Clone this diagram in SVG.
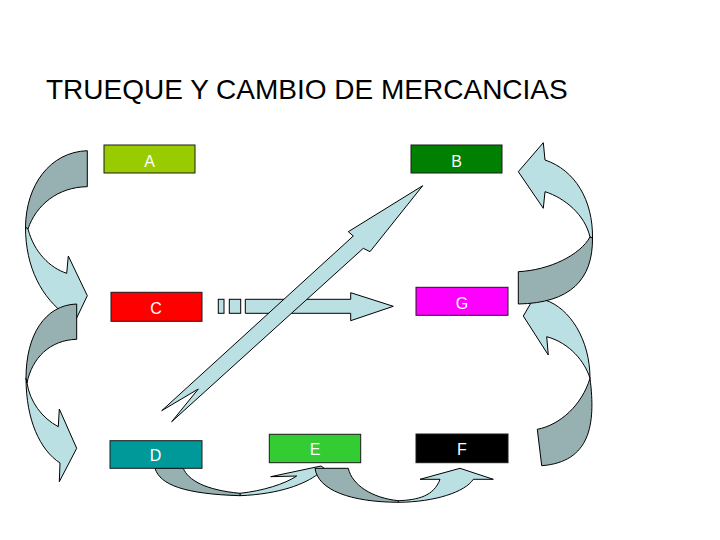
<svg xmlns="http://www.w3.org/2000/svg" width="720" height="540" viewBox="0 0 720 540">
<style>
.box{stroke:#1a1a1a;stroke-width:1}
.lbl{font-family:"Liberation Sans",Arial,sans-serif;font-size:16px;fill:#ffffff;text-anchor:middle}
.title{font-family:"Liberation Sans",Arial,sans-serif;font-size:28px;fill:#000000}
.lt{fill:#BBE0E3;stroke:#000000;stroke-width:1;stroke-linejoin:miter}
.dk{fill:#97B1B3;stroke:#000000;stroke-width:1}
</style>
<rect width="720" height="540" fill="#ffffff"/>
<text class="title" x="46" y="99">TRUEQUE Y CAMBIO DE MERCANCIAS</text>
<g id="connectors">
  <g id="curve-left-top">
    <path class="lt" d="M25.5,227 C25.5,268 42,298 67,316 L68.3,335.5 L87.3,295.7 L68.3,256 L66.7,273.3 C50,268 34,252 28,229 Z"/>
    <path class="dk" d="M87.3,150.7 C50,152 26,185 25.5,227 L28,229 C36,205 58,187 87.3,186.7 Z"/>
  </g>
  <g id="curve-left-bottom">
    <path class="lt" d="M26,378 C26,420 40,450 60,463 L59.3,481.7 L76.7,448.3 L59.3,409 L58.3,426.7 C42,418 30,402 27,383 Z"/>
    <path class="dk" d="M76.7,304 C45,305 26,335 26,378 L27,383 C32,358 50,340 76.7,339.3 Z"/>
  </g>
  <g id="curve-right-bottom">
    <path class="lt" d="M546.7,336.7 L548.3,355 L523.3,316 L535,296 L545,300 C570,308 590,340 590,378.3 C585,362 570,343 546.7,336.7 Z"/>
    <path class="dk" d="M590,378.3 C596,425 590,462 541.7,465.7 L537.3,429.3 C560,425 582,405 590,378.3 Z"/>
  </g>
  <g id="curve-right-top">
    <path class="lt" d="M545,160 L543.3,142.7 L518.3,171.7 L543.3,208.3 L545,191.7 C565,198 585,215 590,237 L592.5,238 C593,200 575,170 545,160 Z"/>
    <path class="dk" d="M518.3,271.7 L518.3,304 C570,303 593,280 592.5,238 L590,237 C580,255 550,270 518.3,271.7 Z"/>
  </g>
  <g id="curve-d-e">
    <path class="lt" d="M240,493.3 C262,491 285,484 296.7,476 L270.7,476.7 L321,466 L338,478 L318,474 C305,484 280,494 240,495.7 Z"/>
    <path class="dk" d="M155,468.3 C160,485 185,494 240,495.7 L240,493.3 C205,490 188,480 183.3,468.3 Z"/>
  </g>
  <g id="curve-e-f">
    <path class="lt" d="M398.3,500.7 C418,500 434,496 440,479.3 L420,479.3 L460,468.3 L493.3,479.3 L473.3,479.3 C465,492 435,502 398.3,502.3 Z"/>
    <path class="dk" d="M315,468.3 C318,490 350,502 398.3,502.3 L398.3,500.7 C372,498 352,485 348.3,468.3 Z"/>
  </g>
  <g id="arrow-c-g">
    <rect class="lt" x="218.3" y="299.3" width="5.7" height="14"/>
    <rect class="lt" x="229.3" y="299.3" width="11.4" height="14"/>
    <path class="lt" d="M245.3,299.3 L350.7,299.3 L350.7,292.7 L393.3,306.3 L350.7,320.7 L350.7,313.3 L245.3,313.3 Z"/>
  </g>
  <g id="arrow-diagonal">
    <path class="lt" d="M422.7,185.7 L348.3,231.7 L353.3,236 L161.7,410.7 L198.3,389 L171.7,421.7 L363.3,248.3 L370,251.7 Z"/>
  </g>
</g>
<g id="node-A"><rect class="box" x="104" y="145" width="91" height="28" fill="#99CC00"/><text class="lbl" x="149.5" y="166.5">A</text></g>
<g id="node-B"><rect class="box" x="411" y="145" width="91" height="28" fill="#008000"/><text class="lbl" x="456.5" y="166.5">B</text></g>
<g id="node-C"><rect class="box" x="111" y="292.3" width="91" height="29" fill="#FF0000"/><text class="lbl" x="156" y="313.5">C</text></g>
<g id="node-G"><rect class="box" x="416" y="287.3" width="92" height="28" fill="#FF00FF"/><text class="lbl" x="462" y="308.5">G</text></g>
<g id="node-D"><rect class="box" x="110" y="440.7" width="92" height="27.6" fill="#009999"/><text class="lbl" x="155.5" y="460.7">D</text></g>
<g id="node-E"><rect class="box" x="269.3" y="434.3" width="91.4" height="28.4" fill="#33CC33"/><text class="lbl" x="315" y="455">E</text></g>
<g id="node-F"><rect class="box" x="416" y="434" width="92" height="28.7" fill="#000000"/><text class="lbl" x="462" y="455">F</text></g>
</svg>
